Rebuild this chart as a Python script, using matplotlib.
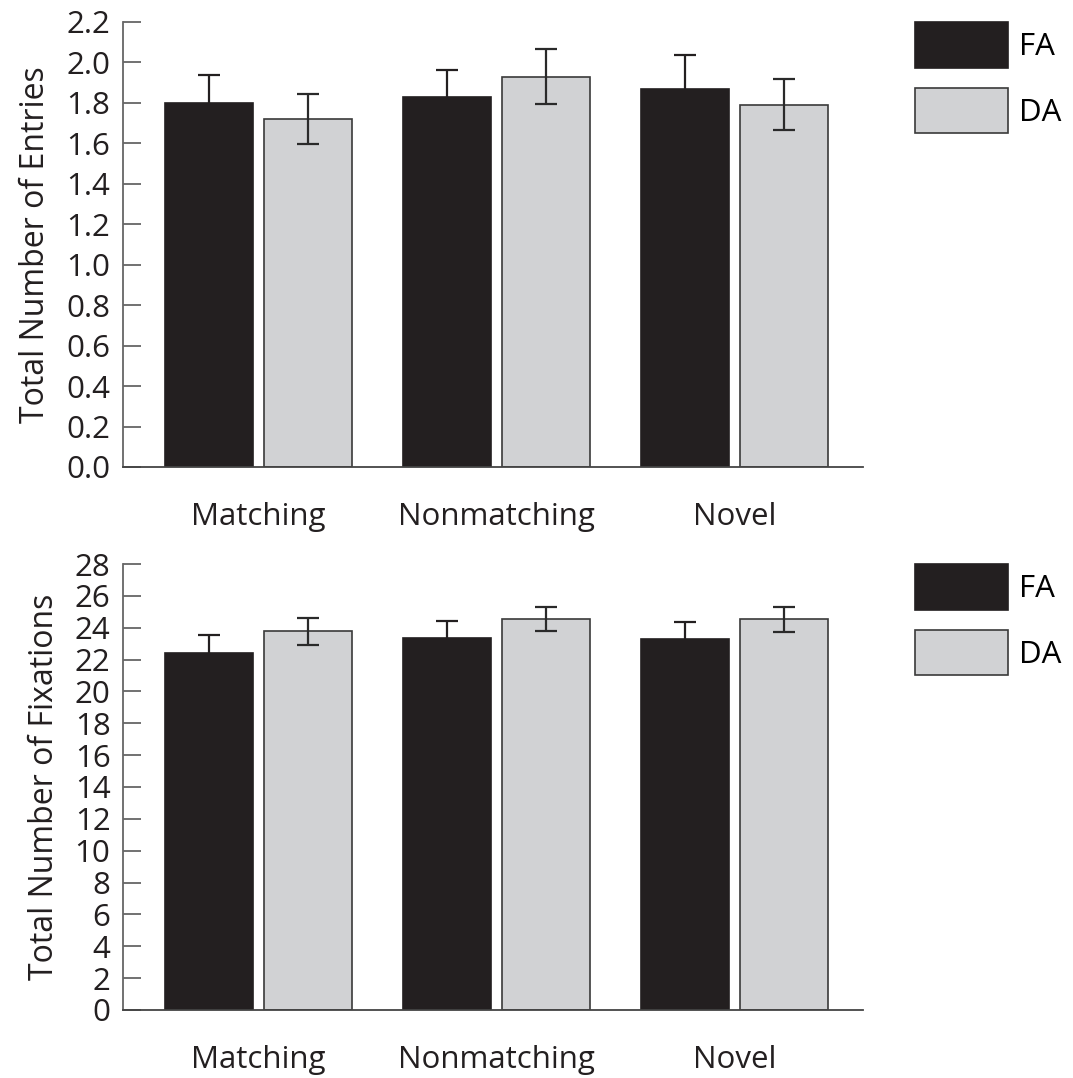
import numpy as np
import matplotlib.pyplot as plt

plt.rcParams['font.family'] = ['Open Sans', 'DejaVu Sans']

## data
groups = ["Matching", "Nonmatching", "Novel"]
entries_fa = [1.80, 1.83, 1.87]
entries_fa_err = [0.137, 0.133, 0.167]
entries_da = [1.72, 1.93, 1.79]
entries_da_err = [0.125, 0.135, 0.126]

fix_fa = [22.42, 23.33, 23.27]
fix_fa_err = [1.10, 1.08, 1.10]
fix_da = [23.77, 24.52, 24.52]
fix_da_err = [0.85, 0.75, 0.80]

entries_ticks = np.arange(0, 2.21, 0.2)
fix_ticks = np.arange(0, 29, 2)

fa_color = "#231f20"
da_color = "#d1d2d4"
edge_da = "#3a3a3a"
fs = 22.5

fig = plt.figure(figsize=(10.73, 10.78), dpi=100)
ax1 = fig.add_axes([0.1146, 0.5668, 0.6894, 0.4128])
ax2 = fig.add_axes([0.1146, 0.0631, 0.6894, 0.4137])

x = np.arange(len(groups))
w = 0.37
off = 0.208

def draw(ax, fa, fa_err, da, da_err, ticks, ylabel, fmt):
    ax.bar(x - off, fa, w, color=fa_color, edgecolor=fa_color, linewidth=1.2,
           yerr=fa_err, ecolor=fa_color, capsize=8, error_kw=dict(elinewidth=1.6, capthick=1.6),
           label="FA", zorder=2)
    ax.bar(x + off, da, w, color=da_color, edgecolor=edge_da, linewidth=1.2,
           yerr=da_err, ecolor="#2a2a2a", capsize=8, error_kw=dict(elinewidth=1.6, capthick=1.6),
           label="DA", zorder=2)
    ax.set_xlim(-0.569, 2.54)
    ax.set_ylim(0, ticks[-1])
    ax.set_yticks(ticks)
    ax.set_yticklabels([fmt.format(t) for t in ticks])
    ax.set_xticks(x)
    ax.set_xticklabels(groups)
    ax.tick_params(axis='x', length=0, pad=25, labelsize=fs, colors="#231f20")
    ax.tick_params(axis='y', direction='in', length=13, width=1.3, color="#666666",
                   pad=9, labelsize=fs, labelcolor="#231f20")
    for s in ["top", "right"]:
        ax.spines[s].set_visible(False)
    ax.spines["left"].set_color("#666666")
    ax.spines["bottom"].set_color("#444444")
    ax.spines["left"].set_linewidth(1.3)
    ax.spines["bottom"].set_linewidth(1.3)
    ax.set_ylabel(ylabel, fontsize=23, color="#231f20", labelpad=10)
    ax.legend(loc="upper left", bbox_to_anchor=(1.054, 1.027), frameon=False,
              fontsize=fs, handlelength=2.98, handleheight=1.85,
              labelspacing=0.65, handletextpad=0.35, borderaxespad=0)

draw(ax1, entries_fa, entries_fa_err, entries_da, entries_da_err, entries_ticks,
     "Total Number of Entries", "{:.1f}")
draw(ax2, fix_fa, fix_fa_err, fix_da, fix_da_err, fix_ticks,
     "Total Number of Fixations", "{:.0f}")

plt.savefig("out.png", dpi=100)
